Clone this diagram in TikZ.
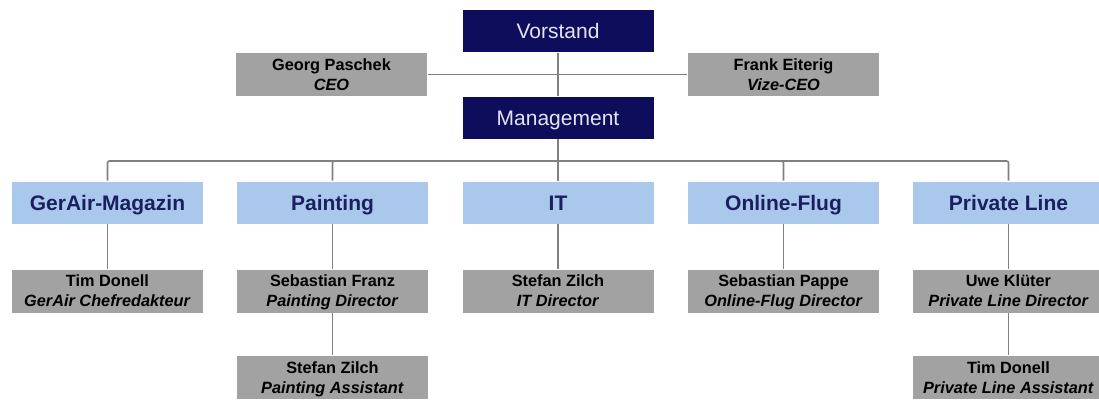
\documentclass[tikz,border=0pt]{standalone}
\usepackage{fontspec}
\setmainfont{Liberation Sans}
\usetikzlibrary{positioning}
\definecolor{boardnavy}{HTML}{0D0D5B}
\definecolor{boardtext}{HTML}{E4E4F2}
\definecolor{deptblue}{HTML}{A9C8EC}
\definecolor{depttext}{HTML}{1B1F5F}
\definecolor{persongray}{HTML}{A2A2A2}
\definecolor{linegray}{HTML}{808080}

\begin{document}
\begin{tikzpicture}[x=1pt,y=-1pt,draw=linegray,line width=1.6pt]
    \tikzstyle{box}=[minimum width=191pt,minimum height=42pt,inner sep=0pt,align=center]
    \tikzstyle{board}=[box, fill=boardnavy, text=boardtext, text height=15pt, text depth=0pt, font=\fontsize{21}{25}\selectfont]
    \tikzstyle{dept}=[box, fill=deptblue, text=depttext, text height=15pt, text depth=0pt, font=\fontsize{21}{25}\selectfont\bfseries]
    \tikzstyle{person}=[box, fill=persongray, text=black, minimum height=43pt, text depth=0pt, font=\fontsize{16.3}{20}\selectfont\bfseries]

    \clip (0,0) rectangle (1099,399);
    \fill[white] (0,0) rectangle (1099,399);

    % Draw the board
    \node[board] (vorstand) at (558,31) {Vorstand};
    \node[person] (ceo) at (331.5,74.5) {Georg Paschek\\\textit{CEO}};
    \node[person] (vizeceo) at (783.5,74.5) {Frank Eiterig\\\textit{Vize-CEO}};
    \node[board] (mgmt) at (558,117.5) {Management};
    \coordinate (bus) at (558,161);

    % Draw the departments
    \node[dept] (gerair) at (107.5,202.5) {GerAir-Magazin};
    \node[dept] (painting) at (332.5,202.5) {Painting};
    \node[dept] (it) at (558,202.5) {IT};
    \node[dept] (online) at (783.5,202.5) {Online-Flug};
    \node[dept] (private) at (1008.5,202.5) {Private Line};

    % Draw the people
    \node[person] (gerair-dir) at (107.5,291) {Tim Donell\\\textit{GerAir Chefredakteur}};
    \node[person] (painting-dir) at (332.5,291) {Sebastian Franz\\\textit{Painting Director}};
    \node[person] (it-dir) at (558,291) {Stefan Zilch\\\textit{IT Director}};
    \node[person] (online-dir) at (783.5,291) {Sebastian Pappe\\\textit{Online-Flug Director}};
    \node[person] (private-dir) at (1008.5,291) {Uwe Klüter\\\textit{Private Line Director}};
    \node[person] (painting-ass) at (332.5,377.5) {Stefan Zilch\\\textit{Painting Assistant}};
    \node[person] (private-ass) at (1008.5,377.5) {Tim Donell\\\textit{Private Line Assistant}};

    \draw (ceo) -- (vizeceo);
    \draw (vorstand) -- (mgmt);
    \draw (mgmt) -- (bus);
    \foreach \dept in {gerair,painting,it,online,private}
    {
        \draw[rounded corners=2pt] (bus) -| (\dept.north);
        \draw (\dept) -- (\dept-dir);
    }
    \draw (painting-dir) -- (painting-ass);
    \draw (private-dir) -- (private-ass);
\end{tikzpicture}
\end{document}
